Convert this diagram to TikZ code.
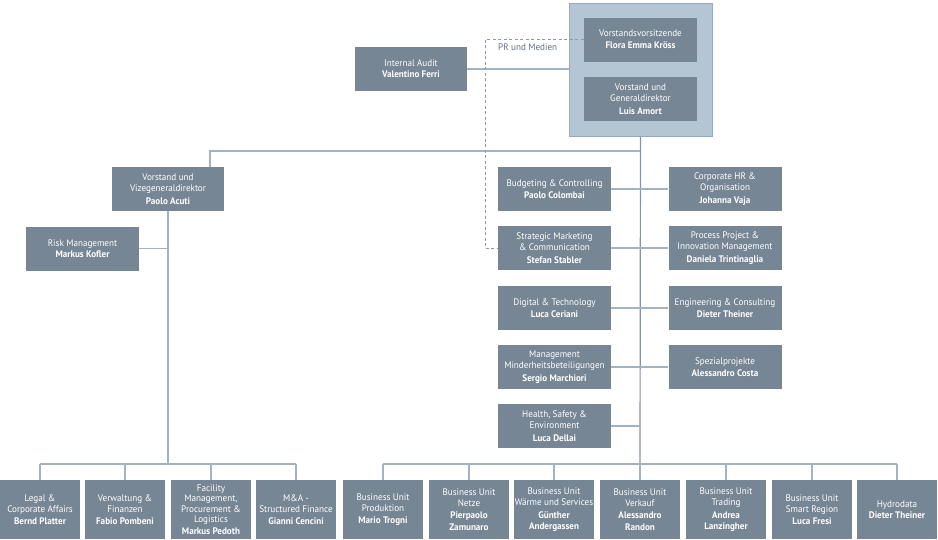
\documentclass[tikz,border=0pt]{standalone}
\usepackage{fontspec}
\setmainfont[FakeStretch=0.96]{PT Sans}
\usetikzlibrary{calc}
\definecolor{boxfill}{HTML}{778695}
\definecolor{bigfill}{HTML}{B4C6D4}
\definecolor{bigdraw}{HTML}{98A9B8}
\definecolor{linec}{HTML}{A3B3C2}
\definecolor{trunkc}{HTML}{8494A3}
\definecolor{dashc}{HTML}{8C99A6}
\definecolor{labc}{HTML}{5F7083}
\tikzset{
  orgbox/.style={fill=boxfill, draw=none, text=white, align=center, inner sep=0pt,
    font=\fontsize{9.5}{11.3}\selectfont, minimum width=113pt, minimum height=44pt},
  botbox/.style={orgbox, minimum width=80pt, minimum height=59pt},
  conn/.style={draw=linec, line width=1.2pt},
  trunk/.style={draw=trunkc, line width=1.2pt},
  dashconn/.style={draw=dashc, line width=0.9pt, dash pattern=on 3pt off 2.5pt},
}
\newcommand{\nm}[1]{\textbf{#1}}
\begin{document}
\begin{tikzpicture}[x=1pt,y=-1pt]
\useasboundingbox (0,0) rectangle (938,539);
% top group
\node[fill=bigfill, draw=bigdraw, line width=1pt, minimum width=143pt, minimum height=133pt, inner sep=0pt] (big) at (640.5,69.5) {};
\node[orgbox] (vv) at (640.5,39.5) {Vorstandsvorsitzende\\[1pt]\nm{Flora Emma Kröss}};
\node[orgbox] (gd) at (640.5,99) {Vorstand und\\Generaldirektor\\[1pt]\nm{Luis Amort}};
\node[orgbox, minimum width=112pt] (ia) at (411,69) {Internal Audit\\\nm{Valentino Ferri}};
% left branch
\node[orgbox, minimum width=112pt] (vize) at (168,189) {Vorstand und\\Vizegeneraldirektor\\[1pt]\nm{Paolo Acuti}};
\node[orgbox] (risk) at (82.5,248.5) {Risk Management\\\nm{Markus Kofler}};
% middle staff
\node[orgbox] (bud) at (554.5,189) {Budgeting \& Controlling\\[1pt]\nm{Paolo Colombai}};
\node[orgbox] (hr) at (725,189) {Corporate HR \&\\Organisation\\[1pt]\nm{Johanna Vaja}};
\node[orgbox] (smc) at (554.5,248) {Strategic Marketing\\\& Communication\\[1pt]\nm{Stefan Stabler}};
\node[orgbox] (ppi) at (725,248) {Process Project \&\\Innovation Management\\[1pt]\nm{Daniela Trintinaglia}};
\node[orgbox] (dig) at (554.5,308) {Digital \& Technology\\[1pt]\nm{Luca Ceriani}};
\node[orgbox] (eng) at (725,308) {Engineering \& Consulting\\[1pt]\nm{Dieter Theiner}};
\node[orgbox] (mmb) at (554.5,367) {Management\\Minderheitsbeteiligungen\\[1pt]\nm{Sergio Marchiori}};
\node[orgbox] (spz) at (725,367) {Spezialprojekte\\[1pt]\nm{Alessandro Costa}};
\node[orgbox] (hse) at (554.5,426) {Health, Safety \&\\Environment\\[1pt]\nm{Luca Dellai}};
% bottom left
\node[botbox] (b1) at (40,509.5) {Legal \&\\Corporate Affairs\\[1pt]\nm{Bernd Platter}};
\node[botbox] (b2) at (125,509.5) {Verwaltung \&\\Finanzen\\[1pt]\nm{Fabio Pombeni}};
\node[botbox, font=\fontsize{9.5}{10.5}\selectfont] (b3) at (211,509.5) {Facility\\Management,\\Procurement \&\\Logistics\\[1pt]\nm{Markus Pedoth}};
\node[botbox] (b4) at (296,509.5) {M\&A -\\Structured Finance\\[1pt]\nm{Gianni Cencini}};
% bottom right
\node[botbox] (u1) at (383,509.5) {Business Unit\\Produktion\\[1pt]\nm{Mario Trogni}};
\node[botbox] (u2) at (469,509.5) {Business Unit\\Netze\\[1pt]\nm{Pierpaolo}\\\nm{Zamunaro}};
\node[botbox] (u3) at (554,509.5) {Business Unit\\Wärme und Services\\[1pt]\nm{Günther}\\\nm{Andergassen}};
\node[botbox] (u4) at (640,509.5) {Business Unit\\Verkauf\\[1pt]\nm{Alessandro}\\\nm{Randon}};
\node[botbox] (u5) at (726,509.5) {Business Unit\\Trading\\[1pt]\nm{Andrea}\\\nm{Lanzingher}};
\node[botbox] (u6) at (812,509.5) {Business Unit\\Smart Region\\[1pt]\nm{Luca Fresi}};
\node[botbox] (u7) at (897,509.5) {Hydrodata\\\nm{Dieter Theiner}};
% coordinates
\coordinate (t1) at (640,151);
\coordinate (t2) at (640,464);
\coordinate (l2) at (168,464);
\coordinate (pr) at (485,39.5);
% connectors
\draw[conn] (ia.east) -- (ia.east -| big.west);
\draw[trunk] (big.south) -- (t2);
\draw[conn] (t1) -| ([xshift=42pt]vize.north);
\draw[conn] (vize.south) -- (l2);
\draw[conn] (risk.east) -- (risk.east -| vize.south);
\foreach \b in {bud,smc,dig,mmb,hse}{\draw[conn] (\b.east) -- (\b.east -| t1);}
\foreach \b in {hr,ppi,eng,spz}{\draw[conn] (\b.west) -- (\b.west -| t1);}
\draw[conn] (b1.north |- l2) -- (b4.north |- l2);
\foreach \b in {b1,b2,b3,b4}{\draw[conn] (\b.north |- l2) -- (\b.north);}
\draw[conn] (u1.north |- t2) -- (u7.north |- t2);
\foreach \b in {u1,u2,u3,u4,u5,u6,u7}{\draw[conn] (\b.north |- t2) -- (\b.north);}
\draw[dashconn] (vv.west) -- (pr) |- (smc.west);
\node[text=labc, font=\fontsize{9.5}{10}\selectfont, anchor=west, inner sep=0pt] (prl) at (498,47.5) {PR und Medien};
\end{tikzpicture}
\end{document}
